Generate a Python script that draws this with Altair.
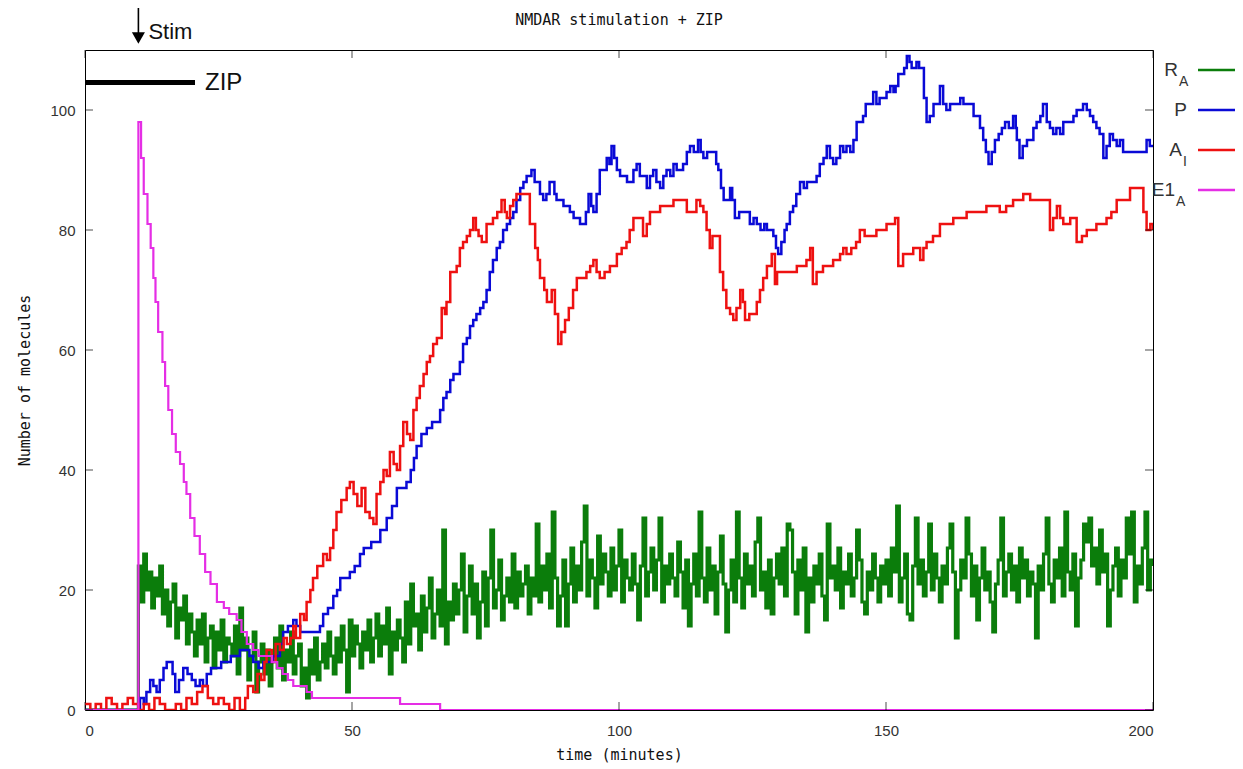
import altair as alt
import pandas as pd

# ---------------- data ----------------
# E1_A (magenta): (time, molecules)
E1A_points = [
    (0, 0), (9.9, 0), (10, 98), (10.5, 92), (11, 86), (11.7, 81), (12.3, 77), (12.8, 72),
    (13.2, 68), (13.7, 63), (14.5, 58), (15, 54), (15.6, 50), (16.3, 46), (17, 43),
    (17.8, 41), (18.5, 38), (19, 36), (19.7, 32), (20.5, 29), (21.5, 26), (22.5, 23),
    (23.5, 21), (24.7, 18), (26, 17), (27, 16), (28.4, 15), (29.3, 13), (30.3, 11),
    (31.5, 10), (32.5, 9), (34, 9), (35, 8), (36, 7), (37, 6), (38, 5), (39, 4),
    (41.5, 3), (42.5, 2), (59, 1), (66.5, 0), (200, 0),
]

# A_I (red)
AI_points = [
    (0, 1), (1, 0), (2, 1), (3, 0), (4, 2), (5, 1), (6, 0), (7, 1), (8, 2), (9, 1),
    (10, 0), (11, 1), (12, 0), (13, 2), (14, 1), (15, 0), (16, 0), (17, 1), (18, 0),
    (19, 2), (20, 1), (21, 3), (22, 4), (23, 2), (24, 1), (25, 2), (26, 1), (27, 0),
    (28, 2), (29, 0), (30, 2), (30.5, 4), (31.5, 3), (32.3, 6), (33, 5), (33.6, 8),
    (34, 10), (35, 8), (35.7, 11), (36.5, 10), (37.2, 12), (37.8, 11), (38.5, 12),
    (39, 14), (39.5, 12), (40.3, 16), (41, 15), (41.5, 18), (42.2, 20), (42.7, 22),
    (43.5, 24), (44.6, 26), (45.3, 25), (45.9, 27), (46.5, 30), (47.1, 33), (48, 35),
    (49, 37), (49.6, 38), (50.3, 36), (51, 34), (51.8, 37), (52.5, 33), (53.3, 32),
    (54, 31), (54.6, 36), (55.3, 38), (55.9, 40), (56.5, 39), (57.1, 43), (57.8, 41),
    (58.4, 40), (59, 44), (59.6, 48), (60.3, 46), (60.9, 45), (61.5, 50), (62.1, 52),
    (62.7, 54), (63.4, 56), (64, 58), (64.6, 59), (65.2, 61), (65.9, 62), (66.8, 67),
    (67.4, 66), (67.7, 68), (68.4, 73), (69.6, 74), (70.2, 77), (70.8, 78), (71.5, 79),
    (72.1, 80), (72.7, 82), (73.2, 80), (73.7, 79), (74.3, 78), (75.2, 81), (76.4, 82),
    (77.2, 83), (78, 85), (78.6, 83), (79, 82), (79.6, 84), (80.2, 85), (80.8, 86),
    (82.7, 86), (83.3, 81), (84.3, 77), (84.8, 75), (85.2, 72), (86, 70), (86.5, 68),
    (87.4, 70), (88, 66), (88.6, 61), (89.2, 63), (89.9, 65), (90.6, 67), (91.4, 70),
    (92.1, 72), (93.9, 73), (94.6, 74), (95.2, 75), (95.8, 73), (96.4, 72), (97.3, 73),
    (98.3, 74), (99, 74), (99.6, 76), (100.5, 77), (101.4, 78), (102, 80), (102.7, 82),
    (103.9, 82), (104.5, 79), (105.2, 81), (105.8, 83), (107.7, 84), (110.2, 85),
    (112, 85), (112.7, 83), (113.6, 83), (114.5, 85), (115.2, 84), (115.8, 83),
    (116.4, 80), (117, 77), (117.5, 79), (118, 79), (118.9, 73), (119.5, 70),
    (120.1, 67), (120.8, 66), (121.4, 65), (122, 67), (122.7, 70), (123.2, 68),
    (123.6, 65), (124.4, 66), (125.1, 66), (125.8, 68), (126.4, 70), (127, 72),
    (127.7, 74), (128.6, 76), (129.2, 71), (129.6, 73), (130.1, 73), (132, 73),
    (132.6, 73), (133.3, 74), (134.2, 74), (135.1, 75), (135.8, 77), (136.3, 71),
    (137, 73), (138.2, 74), (140.1, 75), (141.4, 76), (142, 77), (142.6, 76),
    (143.5, 77), (144.4, 78), (145.1, 80), (146, 79), (147, 79), (148.2, 80), (149, 80),
    (150.1, 81), (151, 81), (151.7, 82), (152.3, 74), (153.2, 76), (154, 76),
    (155.1, 77), (156.4, 75), (157, 77), (157.6, 78), (158.8, 79), (160.1, 81),
    (161.3, 81), (162.6, 82), (163.8, 82), (165.1, 83), (167, 83), (168.8, 84),
    (170, 84), (171.3, 83), (172.5, 84), (173.8, 85), (175.7, 86), (177, 85),
    (178.2, 85), (180.1, 85), (180.7, 80), (181.3, 82), (182, 84), (182.6, 82),
    (183.2, 81), (184.5, 82), (185.7, 78), (186.7, 79), (187.6, 80), (189.4, 81),
    (190.3, 81), (191.3, 82), (192.2, 83), (193.2, 85), (194.4, 85), (195.7, 87),
    (197.2, 87), (198.2, 83), (198.8, 80), (199.5, 81), (200, 80),
]

# P (blue)
P_points = [
    (0, 0), (10.2, 0), (10.3, 2), (11, 1), (11.5, 3), (12.2, 5), (12.8, 4), (13.4, 3),
    (14, 5), (14.7, 7), (15.3, 8), (15.9, 8), (16.4, 6), (16.9, 3), (17.6, 5), (18.4, 7),
    (19.2, 6), (20, 5), (20.7, 4), (21.5, 5), (22.1, 4), (22.8, 6), (23.6, 7), (24.7, 7),
    (25.5, 8), (26.5, 8), (27.3, 9), (28, 9), (29, 10), (30.3, 10), (30.8, 9), (31.5, 8),
    (32.5, 7), (33.4, 8), (34.5, 8), (35.3, 9), (35.9, 9), (36.5, 11), (37.1, 13),
    (38, 14), (39, 15), (39.6, 14), (40.3, 13), (43.4, 13), (44, 14), (44.6, 16),
    (45.5, 17), (46.5, 19), (47.2, 20), (47.8, 22), (48.6, 22), (49.6, 23), (50.5, 24),
    (51.5, 26), (52.2, 27), (52.8, 27), (53.6, 28), (54.6, 28), (55.3, 30), (56.5, 32),
    (57.5, 34), (58.4, 37), (59.3, 37), (60.2, 38), (61, 40), (61.6, 42), (62.1, 44),
    (63, 46), (64, 47), (65, 48), (65.8, 48), (66.5, 50), (67.1, 52), (67.7, 53),
    (68.4, 55), (69, 56), (69.6, 56), (70.2, 58), (70.8, 61), (71.5, 62), (72.1, 64),
    (72.7, 65), (73.3, 66), (74, 67), (74.6, 68), (75.2, 70), (75.8, 73), (76.4, 75),
    (77.1, 77), (77.7, 78), (78.3, 80), (79, 81), (79.6, 82), (80.2, 83), (80.8, 85),
    (81.5, 87), (82.1, 88), (82.7, 89), (83.6, 90), (84.2, 88), (84.6, 88), (85.2, 86),
    (85.8, 85), (86.4, 86), (87, 88), (87.4, 88), (87.9, 86), (88.3, 85), (89, 85),
    (89.6, 84), (90.2, 84), (90.8, 83), (91.5, 82), (92.1, 82), (92.7, 81), (93.3, 81),
    (93.8, 83), (94.3, 86), (94.8, 84), (95.2, 83), (95.8, 86), (96.4, 90), (97, 90),
    (97.7, 92), (98.2, 91), (98.6, 94), (99.1, 92), (99.6, 90), (100.2, 89),
    (100.8, 89), (101.5, 88), (102.1, 88), (102.7, 90), (103.3, 91), (103.9, 89),
    (104.5, 89), (105.2, 87), (105.8, 89), (106.4, 90), (107, 88), (107.7, 87),
    (108.3, 89), (108.9, 90), (109.6, 89), (110.2, 91), (110.8, 90), (111.4, 90),
    (112, 91), (112.7, 93), (113.3, 94), (114, 93), (114.8, 95), (115.3, 93),
    (115.8, 92), (116.5, 93), (117.7, 93), (118.2, 91), (118.6, 90), (119.1, 87),
    (119.6, 85), (120.2, 85), (120.8, 87), (121.2, 85), (121.7, 82), (122.5, 83),
    (123.2, 83), (123.9, 83), (124.5, 81), (125.2, 82), (125.8, 81), (126.5, 80),
    (127.2, 81), (127.7, 80), (128.3, 80), (128.9, 79), (129.4, 77), (129.8, 76),
    (130.4, 78), (131, 80), (131.4, 81), (132, 83), (132.6, 84), (133.2, 86),
    (133.9, 88), (134.6, 87), (135.2, 88), (135.8, 88), (136.4, 88), (137, 89),
    (137.6, 91), (138.3, 92), (138.9, 94), (139.5, 92), (140.1, 91), (140.7, 92),
    (141.4, 94), (142, 93), (142.6, 94), (143.3, 93), (143.9, 95), (144.5, 98),
    (145.1, 98), (145.7, 99), (146.2, 101), (146.7, 101), (147.2, 101), (147.6, 103),
    (148.2, 101), (148.8, 102), (149.5, 102), (150.1, 103), (150.8, 104), (151.4, 103),
    (151.8, 104), (152.3, 106), (152.9, 106), (153.4, 107), (153.9, 109), (154.4, 108),
    (154.8, 107), (155.2, 107), (155.7, 108), (156.2, 107), (156.7, 107), (157.1, 102),
    (157.6, 98), (158.2, 99), (158.9, 101), (159.5, 101), (160.1, 104), (160.7, 101),
    (161.3, 100), (162, 101), (162.6, 101), (163.2, 101), (163.9, 102), (164.5, 101),
    (165.1, 101), (165.7, 101), (166.4, 99), (167, 99), (167.6, 97), (168.2, 95),
    (168.7, 93), (169.2, 91), (169.8, 93), (170.4, 95), (171.1, 96), (171.7, 97),
    (172.3, 98), (173, 97), (173.8, 99), (174.3, 97), (174.5, 95), (175, 92),
    (175.6, 94), (176.4, 95), (177, 95), (177.6, 97), (178.2, 98), (178.9, 99),
    (179.4, 101), (180.1, 98), (180.7, 97), (181.3, 96), (181.9, 97), (182.6, 96),
    (183.2, 98), (183.8, 98), (184.5, 98), (185.1, 99), (185.7, 100), (186.3, 100),
    (186.9, 101), (187.6, 100), (188.2, 99), (188.8, 98), (189.4, 97), (190, 96),
    (190.7, 92), (191.3, 94), (191.9, 96), (192.5, 95), (193.2, 94), (193.8, 95),
    (194.4, 93), (195.7, 93), (197, 93), (197.6, 93), (198.2, 93), (198.8, 95),
    (199.4, 94), (200, 94),
]

# R_A (green): 0 before stimulation, then one reading every half minute from t = 10
RA_before = [(0, 0)]
RA_start = 10
RA_step = 0.5
RA_values = [
    24, 18, 26, 20, 23, 17, 22, 19, 24, 16, 20, 14, 18, 21, 12, 17, 15, 19, 11, 16,   # 10-19.5
    13, 9, 15, 11, 16, 8, 12, 14, 7, 13, 10, 15, 8, 12, 11, 9, 14, 6, 17, 10,        # 20-29.5
    12, 5, 9, 13, 3, 8, 11, 6, 10, 4, 9, 12, 7, 14, 5, 10, 8, 13, 6, 9,              # 30-39.5
    11, 4, 7, 2, 10, 6, 12, 5, 8, 11, 7, 13, 9, 6, 12, 8, 14, 10, 3, 15,             # 40-49.5
    9, 14, 11, 7, 13, 10, 15, 8, 12, 16, 9, 14, 11, 17, 6, 13, 10, 15, 12, 8,        # 50-59.5
    18, 11, 21, 14, 16, 10, 19, 13, 17, 22, 12, 16, 20, 14, 30, 11, 18, 15, 21, 16,  # 60-69.5
    20, 26, 13, 19, 24, 16, 21, 12, 18, 23, 14, 22, 30, 17, 20, 25, 15, 19, 22, 18,  # 70-79.5
    26, 17, 23, 19, 21, 24, 16, 22, 19, 31, 18, 24, 20, 26, 17, 33, 22, 14, 19, 25,  # 80-89.5
    14, 21, 27, 18, 24, 20, 28, 34, 19, 25, 22, 17, 29, 21, 26, 23, 19, 27, 20, 24,  # 90-99.5
    30, 18, 25, 22, 20, 26, 21, 15, 24, 32, 19, 23, 27, 20, 25, 32, 18, 24, 21, 26,  # 100-109.5
    22, 19, 28, 23, 17, 25, 14, 21, 26, 19, 33, 22, 18, 27, 20, 24, 16, 23, 29, 21,  # 110-119.5
    13, 20, 25, 18, 33, 22, 17, 26, 21, 24, 19, 28, 32, 20, 23, 17, 25, 16, 22, 26,  # 120-129.5
    21, 27, 19, 31, 30, 23, 16, 25, 20, 27, 13, 22, 18, 24, 21, 26, 19, 15, 31, 22,  # 130-139.5
    24, 20, 27, 17, 23, 21, 26, 19, 22, 30, 25, 18, 16, 23, 20, 26, 22, 18, 24, 21,  # 140-149.5
    25, 19, 27, 23, 34, 18, 22, 26, 16, 15, 24, 32, 21, 25, 19, 23, 31, 20, 26, 22,  # 150-159.5
    18, 24, 21, 27, 31, 23, 12, 20, 25, 22, 32, 26, 19, 24, 15, 22, 27, 20, 23, 18,  # 160-169.5
    13, 21, 25, 32, 19, 23, 26, 20, 24, 18, 27, 22, 25, 19, 23, 21, 12, 24, 20, 26,  # 170-179.5
    32, 21, 18, 25, 22, 27, 19, 33, 23, 20, 26, 14, 22, 25, 31, 28, 32, 24, 27, 21,  # 180-189.5
    30, 23, 26, 14, 20, 24, 27, 19, 25, 22, 32, 26, 33, 18, 24, 21, 27, 33, 20, 25,  # 190-199.5
    24,                                                                               # 200
]

x_ticks = [0, 50, 100, 150, 200]
y_ticks = [0, 20, 40, 60, 80, 100]
stim_time = [10]
zip_period = [(0, 20.6)]

legend_items = [
    ("R", "A", "#0b7d0b"),
    ("P", "", "#0a0ad6"),
    ("A", "I", "#ee1111"),
    ("E1", "A", "#e52ee5"),
]

# ---------------- tables ----------------
def to_df(points):
    return pd.DataFrame(points, columns=["t", "v"])

ra_pts = RA_before + [(RA_start + i * RA_step, v) for i, v in enumerate(RA_values)]
df_ra = to_df(ra_pts)
df_p = to_df(P_points)
df_ai = to_df(AI_points)
df_e1 = to_df(E1A_points)

W, H = 1068, 660
SANS = "Liberation Sans"
MONO = "DejaVu Sans Mono"

x_enc = alt.X("t:Q", scale=alt.Scale(domain=[0, 200], nice=False),
              axis=alt.Axis(values=x_ticks, title="time (minutes)", labelPadding=13,
                            titleY=44, titleBaseline="middle"))
y_enc = alt.Y("v:Q", scale=alt.Scale(domain=[0, 110], nice=False),
              axis=alt.Axis(values=y_ticks, title="Number of molecules", labelPadding=10,
                            titleX=-61, titleY=330, titleAngle=270,
                            titleAlign="center", titleBaseline="middle"))


def series(df, color, width):
    return alt.Chart(df).mark_line(interpolate="step-after", color=color,
                                   strokeWidth=width, clip=True).encode(x=x_enc, y=y_enc)


lines = [
    series(df_ra, legend_items[0][2], 3.2),
    series(df_p, legend_items[1][2], 2.5),
    series(df_ai, legend_items[2][2], 2.5),
    series(df_e1, legend_items[3][2], 2.2),
]

# inward, mirrored ticks (gnuplot style)
df_xt = pd.DataFrame({"t": x_ticks})
df_yt = pd.DataFrame({"v": y_ticks})
xs = alt.Scale(domain=[0, 200], nice=False)
ys = alt.Scale(domain=[0, 110], nice=False)
ticks = [
    alt.Chart(df_xt).mark_tick(color="black", thickness=1, size=8).encode(
        x=alt.X("t:Q", scale=xs), y=alt.value(H - 4)),
    alt.Chart(df_xt).mark_tick(color="black", thickness=1, size=8).encode(
        x=alt.X("t:Q", scale=xs), y=alt.value(4)),
    alt.Chart(df_yt).mark_tick(color="black", thickness=1, size=8).encode(
        y=alt.Y("v:Q", scale=ys), x=alt.value(4)),
    alt.Chart(df_yt).mark_tick(color="black", thickness=1, size=8).encode(
        y=alt.Y("v:Q", scale=ys), x=alt.value(W - 4)),
]

# Stim arrow and ZIP bar
df_stim = pd.DataFrame({"t": stim_time})
df_zip = pd.DataFrame(zip_period, columns=["start", "end"])
annot = [
    alt.Chart(df_stim).mark_rule(color="black", strokeWidth=1.6, clip=False).encode(
        x=alt.X("t:Q", scale=xs), y=alt.value(-43), y2=alt.value(-16)),
    alt.Chart(df_stim).mark_point(shape="triangle-down", filled=True, color="black",
                                  size=170, opacity=1, clip=False).encode(
        x=alt.X("t:Q", scale=xs), y=alt.value(-12)),
    alt.Chart(df_stim).mark_text(text="Stim", font=SANS, fontSize=22, align="left",
                                 baseline="middle", dx=10, color="#111", clip=False).encode(
        x=alt.X("t:Q", scale=xs), y=alt.value(-18)),
    alt.Chart(df_zip).mark_rule(color="black", strokeWidth=5, strokeCap="butt").encode(
        x=alt.X("start:Q", scale=xs), x2="end:Q", y=alt.value(32.5)),
    alt.Chart(df_zip).mark_text(text="ZIP", font=SANS, fontSize=24, align="left",
                                baseline="middle", dx=10, color="#111").encode(
        x=alt.X("end:Q", scale=xs), y=alt.value(32.5)),
]

# custom legend with subscripts (right of the plot)
dummy = pd.DataFrame({"a": [0]})
legend_layout = [(20, 1093), (60, 1102), (100, 1097), (140, 1090)]
legend = []
for (main, sub, color), (ypos, xr) in zip(legend_items, legend_layout):
    legend.append(alt.Chart(dummy).mark_text(text=main, font=SANS, fontSize=19, align="right",
                                             baseline="middle", color="#333").encode(
        x=alt.value(xr), y=alt.value(ypos)))
    if sub:
        legend.append(alt.Chart(dummy).mark_text(text=sub, font=SANS, fontSize=14, align="left",
                                                 baseline="middle", color="#333").encode(
            x=alt.value(xr + 1), y=alt.value(ypos + 12)))
    legend.append(alt.Chart(dummy).mark_rule(color=color, strokeWidth=2.5).encode(
        x=alt.value(1113), x2=alt.value(1150), y=alt.value(ypos)))

title = alt.Chart(dummy).mark_text(text="NMDAR stimulation + ZIP", font=MONO, fontSize=15,
                                   align="center", baseline="middle", color="#111").encode(
    x=alt.value(W / 2), y=alt.value(-30))

chart = alt.layer(*lines, *ticks, *annot, *legend, title).properties(
    width=W, height=H,
    autosize=alt.AutoSizeParams(type="none"),
    padding={"left": 77, "top": 42, "right": 82, "bottom": 55},
).configure_view(
    stroke="black", strokeWidth=1
).configure_axis(
    domain=False, ticks=False, grid=False,
    labelFont=SANS, labelFontSize=15, labelColor="#333",
    titleFont=MONO, titleFontSize=15, titleFontWeight="normal", titleColor="#111",
)

chart.save("out.html", embed_options={"renderer": "svg", "actions": False})
